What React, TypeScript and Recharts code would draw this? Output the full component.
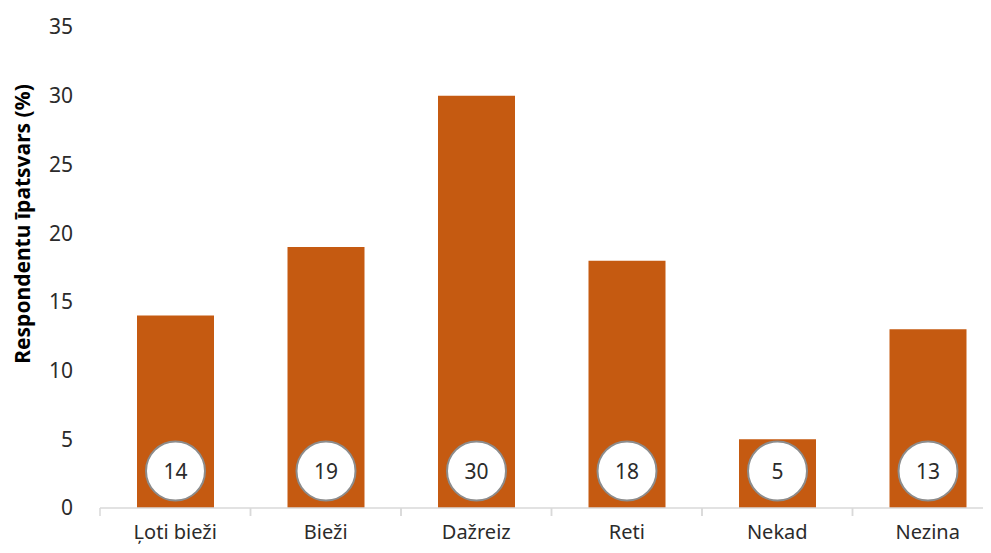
import { Bar, BarChart, LabelList, XAxis, YAxis } from "recharts";

const categories = ["Ļoti bieži", "Bieži", "Dažreiz", "Reti", "Nekad", "Nezina"];
const shares = [14, 19, 30, 18, 5, 13];
const yTicks = [0, 5, 10, 15, 20, 25, 30, 35];

const data = categories.map((name, i) => ({ name, value: shares[i] }));

const FONT = "'Noto Sans', 'Open Sans', sans-serif";
const TEXT = "#2b2b2b";

const CategoryTick = (props: any) => {
    const { x, y, payload } = props;
    const half = payload.offset || 75;
    return (
        <g>
            <line x1={x - half} x2={x - half} y1={y} y2={y + 8} stroke="#d9d9d9" strokeWidth={1.5} />
            <line x1={x + half} x2={x + half} y1={y} y2={y + 8} stroke="#d9d9d9" strokeWidth={1.5} />
            <text x={x} y={y + 31} textAnchor="middle" fontSize={20} fill={TEXT} fontFamily={FONT}>
                {payload.value}
            </text>
        </g>
    );
};

const CircleLabel = (props: any) => {
    const { x, y, width, height, value } = props;
    const cx = x + width / 2;
    const cy = y + height - 37;
    return (
        <g>
            <circle cx={cx} cy={cy} r={29.5} fill="#ffffff" stroke="#8c8c8c" strokeWidth={2} />
            <text x={cx} y={cy} dy={7.5} textAnchor="middle" fontSize={21} fill={TEXT} fontFamily={FONT}>
                {value}
            </text>
        </g>
    );
};

const App = () => {
    return (
        <div style={{ width: 991, height: 553, overflow: "hidden", margin: -8, background: "#fff" }}>
            <BarChart
                width={1010}
                height={600}
                data={data}
                margin={{ top: 27, right: 7, bottom: 0, left: 0 }}
            >
                <XAxis
                    dataKey="name"
                    height={92}
                    interval={0}
                    tickSize={0}
                    tickMargin={0}
                    tickLine={false}
                    axisLine={{ stroke: "#d9d9d9", strokeWidth: 1.5 }}
                    tick={<CategoryTick />}
                />
                <YAxis
                    width={100}
                    domain={[0, 35]}
                    ticks={yTicks}
                    interval={0}
                    axisLine={false}
                    tickLine={{ stroke: "none" }}
                    tickSize={0}
                    tickMargin={27}
                    tick={{ fontSize: 21, fill: TEXT, fontFamily: FONT }}
                    label={{
                        content: () => (
                            <text
                                x={0}
                                y={0}
                                transform="translate(30, 224) rotate(-90)"
                                textAnchor="middle"
                                fontSize={21}
                                fontWeight={700}
                                fill="#000"
                                fontFamily={FONT}
                            >
                                Respondentu īpatsvars (%)
                            </text>
                        ),
                    }}
                />
                <Bar dataKey="value" fill="#c55a11" barSize={77} isAnimationActive={false}>
                    <LabelList dataKey="value" content={<CircleLabel />} />
                </Bar>
            </BarChart>
        </div>
    );
};

export default App;
